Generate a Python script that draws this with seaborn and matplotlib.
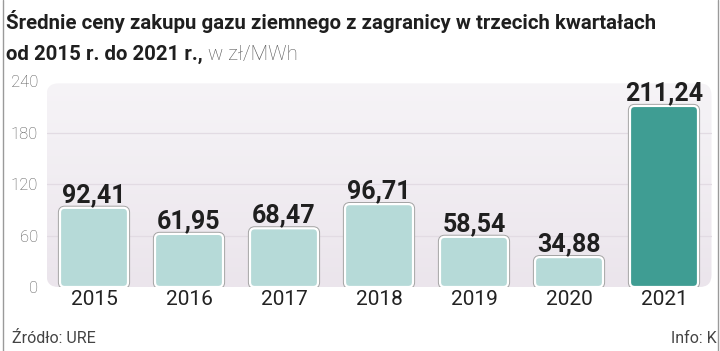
import matplotlib
matplotlib.use("Agg")
import matplotlib.pyplot as plt
import matplotlib.patheffects as pe
from matplotlib.patches import FancyBboxPatch
from matplotlib.lines import Line2D
import numpy as np
import seaborn as sns

# Dane
years = ["2015", "2016", "2017", "2018", "2019", "2020", "2021"]
prices = [92.41, 61.95, 68.47, 96.71, 58.54, 34.88, 211.24]
labels = ["92,41", "61,95", "68,47", "96,71", "58,54", "34,88", "211,24"]
bar_colors = ["#b6dad8"] * 6 + ["#3f9d93"]
y_ticks = [0, 60, 120, 180, 240]

title1 = "Średnie ceny zakupu gazu ziemnego z zagranicy w trzecich kwartałach"
title2_bold = "od 2015 r. do 2021 r.,"
title2_unit = " w zł/MWh"
source = "Źródło: URE"
info = "Info: K"

sns.set_theme(style="white")
plt.rcParams["font.family"] = ["Roboto", "DejaVu Sans"]

W, H = 720, 351
fig = plt.figure(figsize=(W / 100, H / 100), dpi=100)
ax = fig.add_axes([46.5 / W, (H - 287) / H, 665 / W, 205.7 / H])
ax.set_facecolor("none")

# tło z gradientem
bg = FancyBboxPatch((0, 0), 1, 0.99, boxstyle="round,pad=0,rounding_size=0.018",
                    mutation_aspect=665 / 205.7, transform=ax.transAxes,
                    facecolor="none", edgecolor="none", zorder=0)
ax.add_patch(bg)
grad = np.linspace(0, 1, 100).reshape(-1, 1)
im = ax.imshow(grad, extent=[0, 1, 0, 1], transform=ax.transAxes, aspect="auto",
               cmap=matplotlib.colors.LinearSegmentedColormap.from_list("bg", ["#ebe5ec", "#f6f4f7"]),
               zorder=0, origin="lower")
im.set_clip_path(bg)

sns.barplot(x=years, y=prices, hue=years, palette=bar_colors, legend=False,
            width=0.716, saturation=1, ax=ax, zorder=3)

# zaokrąglone słupki
px_per_x = 665 / 7
px_per_y = 205.7 / 240
for p in list(ax.patches):
    if not isinstance(p, matplotlib.patches.Rectangle):
        continue
    x0, y0, w, h = p.get_x(), p.get_y(), p.get_width(), p.get_height()
    fc = p.get_facecolor()
    p.remove()
    fb = FancyBboxPatch((x0, y0), w, h, boxstyle="round,pad=0,rounding_size=0.05",
                        mutation_aspect=px_per_x / px_per_y,
                        facecolor=fc, edgecolor="white", linewidth=1.6, zorder=3)
    fb.set_path_effects([pe.Stroke(linewidth=3.0, foreground="#a3a3a3"), pe.Normal()])
    ax.add_patch(fb)

for i, (v, lab) in enumerate(zip(prices, labels)):
    ax.annotate(lab, (i, v), xytext=(0, 6), textcoords="offset pixels",
                ha="center", va="baseline", fontsize=18, fontweight="bold",
                color="#1f1f1f", zorder=5)

for yv in y_ticks[1:-1]:
    ax.axhline(yv, color="#e2dbe3", linewidth=0.9, zorder=1)

ax.set_xlim(-0.5, 6.5)
ax.set_ylim(0, 240)
ax.set_yticks(y_ticks)
ax.set_yticklabels([str(t) for t in y_ticks])
ax.tick_params(axis="y", length=0, pad=6, labelsize=12, labelcolor="#555555")
ax.tick_params(axis="x", length=0, pad=2, labelsize=15, labelcolor="#222222")
for lab in ax.get_yticklabels():
    lab.set_fontweight("light")
ax.set_xlabel("")
ax.set_ylabel("")
sns.despine(ax=ax, left=True, bottom=True)

# tytuł
fig.text(6 / W, 1 - 29 / H, title1, fontsize=14.7, fontweight="bold", color="#1f1f1f",
         va="baseline", ha="left")
t2 = fig.text(6 / W, 1 - 60 / H, title2_bold, fontsize=14.7, fontweight="bold",
              color="#1f1f1f", va="baseline", ha="left")
fig.canvas.draw()
bb = t2.get_window_extent(fig.canvas.get_renderer())
fig.text(bb.x1 / W, 1 - 60 / H, title2_unit, fontsize=14.7, fontweight="light",
         color="#555555", va="baseline", ha="left")

# stopka
fig.text(12 / W, 1 - 343 / H, source, fontsize=11.5, color="#444444",
         va="baseline", ha="left")
fig.text(717 / W, 1 - 343 / H, info, fontsize=11.5, color="#444444",
         va="baseline", ha="right")

# krawędzie strony
fig.add_artist(Line2D([2.5 / W, 2.5 / W], [0, 1], color="#9a9a9a", linewidth=1))
fig.add_artist(Line2D([717.5 / W, 717.5 / W], [0, 1], color="#9a9a9a", linewidth=1))

fig.savefig("out.png", dpi=100)
